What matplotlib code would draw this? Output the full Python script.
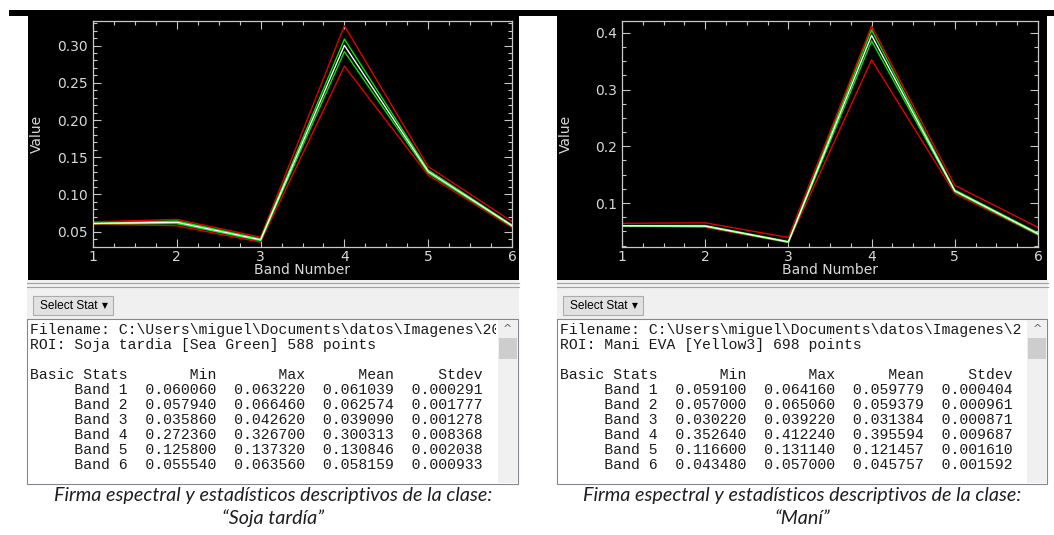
import matplotlib.pyplot as plt
from matplotlib.patches import Rectangle
from matplotlib.ticker import MultipleLocator, FormatStrFormatter
from matplotlib.transforms import Bbox, TransformedBbox

W, H = 1054, 535

bands = [1, 2, 3, 4, 5, 6]

# Soja tardia (ROI: Sea Green, 588 points)
soja_min = [0.060060, 0.057940, 0.035860, 0.272360, 0.125800, 0.055540]
soja_max = [0.063220, 0.066460, 0.042620, 0.326700, 0.137320, 0.063560]
soja_mean = [0.061039, 0.062574, 0.039090, 0.300313, 0.130846, 0.058159]
soja_std = [0.000291, 0.001777, 0.001278, 0.008368, 0.002038, 0.000933]

# Mani EVA (ROI: Yellow3, 698 points)
mani_min = [0.059100, 0.057000, 0.030220, 0.352640, 0.116600, 0.043480]
mani_max = [0.064160, 0.065060, 0.039220, 0.412240, 0.131140, 0.057000]
mani_mean = [0.059779, 0.059379, 0.031384, 0.395594, 0.121457, 0.045757]
mani_std = [0.000404, 0.000961, 0.000871, 0.009687, 0.001610, 0.001592]

FG = '#c8c8c8'
MONO = 'Liberation Mono'
CAPTION_FONT = ['Lato', 'Open Sans', 'DejaVu Sans']


def px_axes(fig, x0, y0, x1, y1):
    """Axes from pixel box (top-left origin)."""
    return fig.add_axes([x0 / W, 1 - y1 / H, (x1 - x0) / W, (y1 - y0) / H])


def draw_plot(fig, bg, box, ylim, major, minor, fmt, mn, mx, mean, std):
    x0, y0, x1, y1 = box
    ax = px_axes(fig, x0, y0, x1, y1)
    ax.set_facecolor('black')
    lo = [m - s for m, s in zip(mean, std)]
    hi = [m + s for m, s in zip(mean, std)]
    ax.plot(bands, mn, color='#e00000', lw=1.0)
    ax.plot(bands, mx, color='#e00000', lw=1.0)
    ax.plot(bands, lo, color='#00e600', lw=1.0)
    ax.plot(bands, hi, color='#00e600', lw=1.0)
    ax.plot(bands, mean, color='white', lw=1.0)
    ax.set_xlim(1, 6)
    ax.set_ylim(*ylim)
    ax.xaxis.set_major_locator(MultipleLocator(1))
    ax.xaxis.set_minor_locator(MultipleLocator(0.25))
    ax.yaxis.set_major_locator(MultipleLocator(major))
    ax.yaxis.set_minor_locator(MultipleLocator(minor))
    ax.yaxis.set_major_formatter(FormatStrFormatter(fmt))
    for s in ax.spines.values():
        s.set_color(FG)
        s.set_linewidth(0.9)
    ax.tick_params(which='both', direction='in', top=True, right=True,
                   colors=FG, width=0.8, labelsize=10, labelcolor='#d8d8d8')
    ax.tick_params(which='major', length=5.5)
    ax.tick_params(which='minor', length=3)
    ax.tick_params(axis='y', pad=3.5)
    ax.tick_params(axis='x', pad=2.5)
    cx = (x0 + x1) / 2
    bg.text(cx, 270, 'Band Number', color='#d8d8d8', fontsize=10,
            ha='center', va='center')
    bg.text(x0 - 56, (y0 + y1) / 2, 'Value', color='#d8d8d8', fontsize=10,
            rotation=90, ha='center', va='center')
    return ax


def draw_lower(bg, left, right, roi, fname, mn, mx, mean, std, caption):
    # grey separator and panel
    bg.add_patch(Rectangle((left, 280), right - left, 40, color='#f0f0f0', lw=0))
    bg.plot([left, right], [282.5, 282.5], color='#a0a0a0', lw=0.8)
    bg.plot([left, right], [286.5, 286.5], color='#a0a0a0', lw=0.8)
    # Select Stat button
    bg.add_patch(Rectangle((left + 6, 296), 80, 19, facecolor='#e1e1e1',
                           edgecolor='#adadad', lw=0.8))
    bg.text(left + 13, 306, 'Select Stat', fontsize=8.6, family='Liberation Sans',
            color='black', va='center', ha='left')
    bg.text(left + 75, 306, '\u25bc', fontsize=5.5, family='DejaVu Sans',
            color='black', va='center', ha='left')
    # text box
    bg.add_patch(Rectangle((left, 319), right - left - 1, 165, facecolor='white',
                           edgecolor='#828790', lw=0.8))
    # scrollbar
    sx = right - 21
    bg.add_patch(Rectangle((sx, 320), 20, 163, facecolor='#f0f0f0', lw=0))
    bg.add_patch(Rectangle((sx + 1, 338), 18, 21, facecolor='#cdcdcd', lw=0))
    bg.text(sx + 10, 329, '^', fontsize=8, color='#606060', ha='center', va='center')

    rows = ['Filename: ' + fname, 'ROI: ' + roi, '',
            f"{'Basic Stats':<11}{'Min':>10}{'Max':>10}{'Mean':>10}{'Stdev':>10}"]
    for i, b in enumerate(bands):
        rows.append(f"{'Band ' + str(b):>11}{mn[i]:>10.6f}{mx[i]:>10.6f}"
                    f"{mean[i]:>10.6f}{std[i]:>10.6f}")
    clip = TransformedBbox(Bbox([[left + 1, 320], [sx - 2, 483]]), bg.transData)
    for i, r in enumerate(rows):
        t = bg.text(left + 3, 330 + i * 15, r, family=MONO, fontsize=10.6,
                    color='#1a1a1a', va='center', ha='left')
        t.set_clip_on(True)
        t.set_clip_box(clip)
    cx = (left + right) / 2
    bg.text(cx, 495, 'Firma espectral y estadísticos descriptivos de la clase:',
            family=CAPTION_FONT, style='italic',
            fontsize=14.2, color='#1e1e1e', ha='center', va='center')
    bg.text(cx, 518, caption, family=CAPTION_FONT,
            style='italic', fontsize=14.2, color='#1e1e1e', ha='center', va='center')


fig = plt.figure(figsize=(W / 100, H / 100), dpi=100)
fig.patch.set_facecolor('white')
bg = fig.add_axes([0, 0, 1, 1])
bg.set_xlim(0, W)
bg.set_ylim(H, 0)
bg.axis('off')

# black window backgrounds
bg.add_patch(Rectangle((9, 10), W - 9, 6, color='black', lw=0))
bg.add_patch(Rectangle((28, 16), 491, 264, color='black', lw=0))
bg.add_patch(Rectangle((557, 16), 490, 264, color='black', lw=0))

draw_plot(fig, bg, (93, 21, 512, 247), (0.0294, 0.333), 0.05, 0.01, '%.2f',
          soja_min, soja_max, soja_mean, soja_std)
draw_plot(fig, bg, (622, 21, 1038, 247), (0.0224, 0.421), 0.1, 0.025, '%.1f',
          mani_min, mani_max, mani_mean, mani_std)

draw_lower(bg, 27, 519, 'Soja tardia [Sea Green] 588 points',
           'C:\\Users\\miguel\\Documents\\datos\\Imagenes\\20',
           soja_min, soja_max, soja_mean, soja_std, '\u201cSoja tardía\u201d')
draw_lower(bg, 557, 1048, 'Mani EVA [Yellow3] 698 points',
           'C:\\Users\\miguel\\Documents\\datos\\Imagenes\\2',
           mani_min, mani_max, mani_mean, mani_std, '\u201cManí\u201d')

fig.savefig('out.png', dpi=100, facecolor='white')
